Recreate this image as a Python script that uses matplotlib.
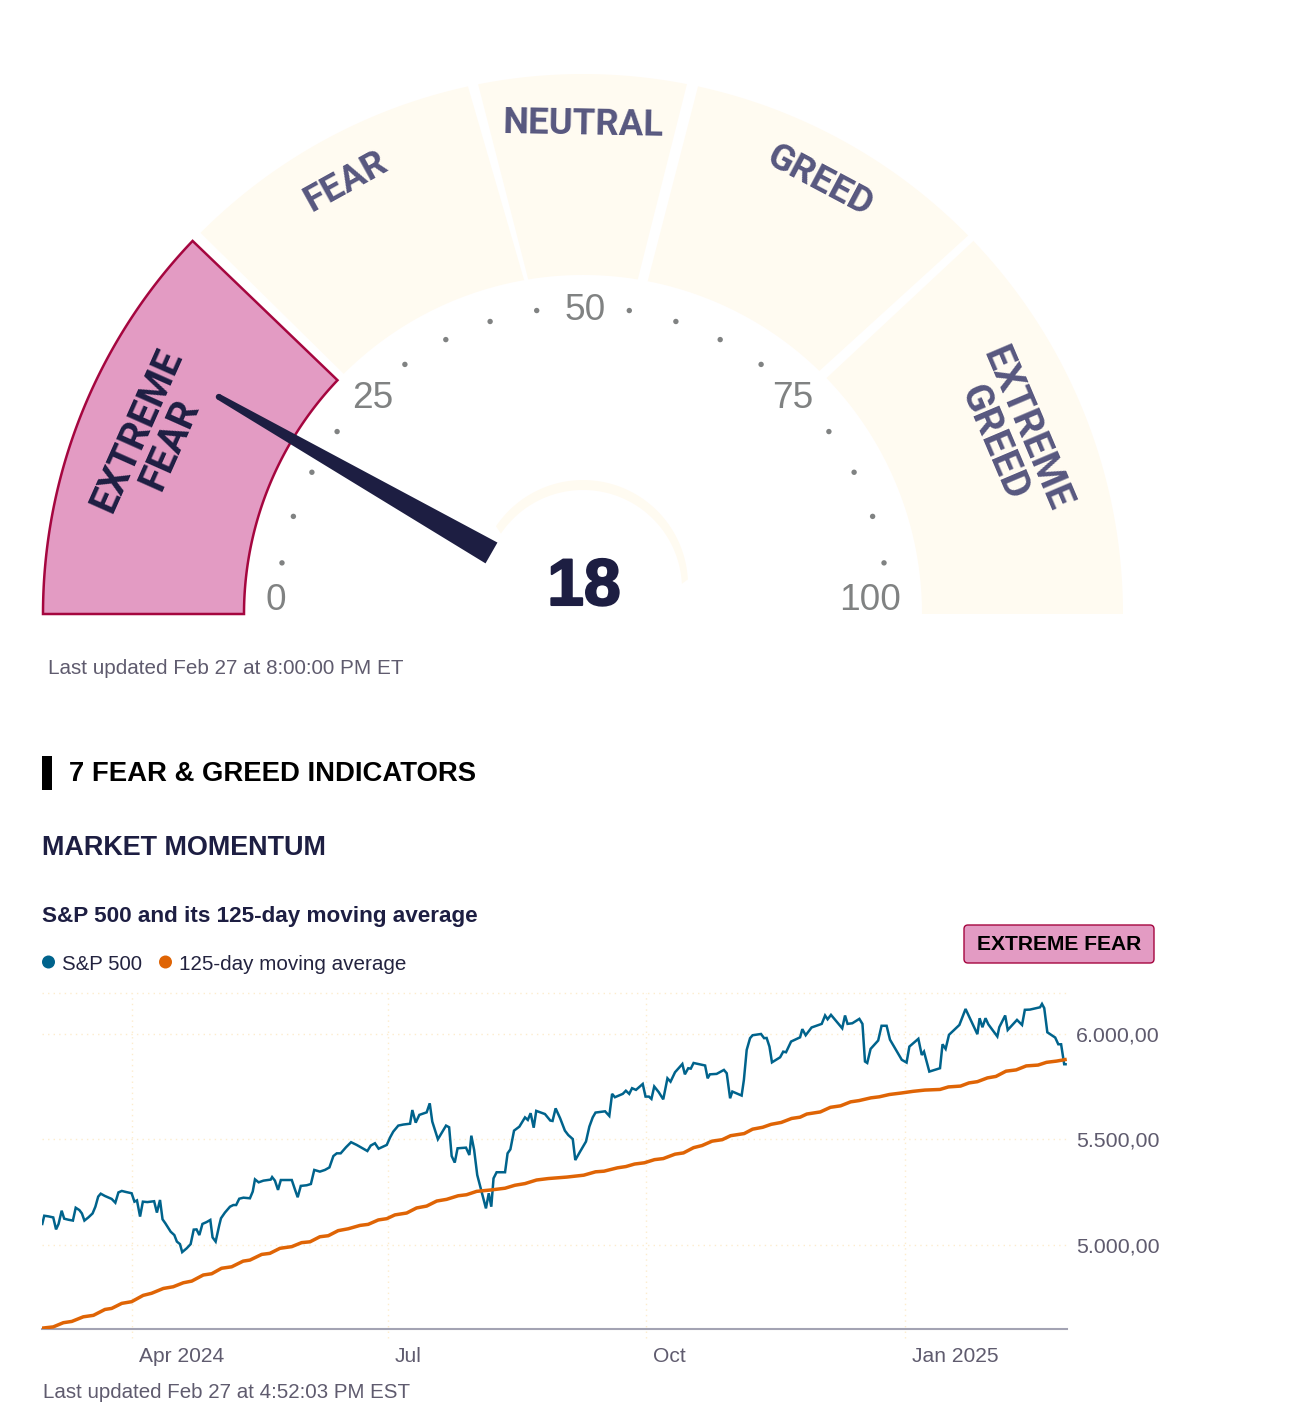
import numpy as np
import pandas as pd
import matplotlib
matplotlib.use("Agg")
import matplotlib.pyplot as plt
import matplotlib.dates as mdates
import matplotlib.patheffects as pe
from matplotlib.patches import Circle, FancyBboxPatch, Rectangle

plt.rcParams["font.family"] = ["Liberation Sans", "DejaVu Sans"]

# 1. Data
gauge_score = 18
gauge_tick_values = [5, 10, 15, 20, 30, 35, 40, 45, 55, 60, 65, 70, 80, 85, 90, 95]
gauge_label_values = ["0", "25", "50", "75", "100"]

chart_start = pd.Timestamp("2024-02-29")
sp500_days = [
    0.1, 0.8, 2.3, 4.0, 5.0, 5.9, 7.0, 7.9, 9.4, 11.0, 12.0, 13.3, 14.2, 15.1, 16.5, 18.0,
    19.0, 20.0, 20.9, 22.4, 24.8, 26.1, 27.2, 28.4, 29.9, 31.9, 32.9, 33.8, 34.9, 35.9, 37.5, 39.9,
    40.9, 42.0, 42.9, 43.9, 45.8, 47.1, 48.0, 49.1, 49.9, 51.5, 52.9, 54.0, 55.0, 56.0, 57.1, 58.6,
    59.9, 60.7, 61.8, 63.1, 63.7, 65.1, 66.9, 68.1, 69.1, 70.2, 71.7, 74.0, 75.0, 75.8, 77.1, 78.8,
    81.4, 81.9, 82.9, 84.0, 85.0, 88.9, 90.0, 91.0, 92.1, 94.2, 95.7, 96.9, 98.9, 100.7, 102.3, 103.7,
    104.9, 106.3, 108.2, 110.0, 112.0, 115.8, 117.0, 118.5, 119.8, 122.7, 123.9, 125.0, 126.8, 128.6, 131.0, 131.8,
    133.0, 134.3, 136.9, 138.0, 138.9, 140.9, 143.8, 144.9, 145.8, 146.9, 147.9, 150.9, 152.1, 152.8, 153.8, 154.9,
    156.2, 158.0, 159.0, 159.9, 160.7, 161.8, 164.8, 165.7, 166.7, 168.0, 169.9, 171.9, 172.9, 173.9, 175.0, 175.9,
    179.0, 180.9, 181.7, 182.8, 184.4, 186.1, 187.3, 188.9, 189.8, 191.5, 193.6, 194.8, 196.0, 197.0, 200.4, 201.9,
    202.9, 203.9, 206.7, 207.8, 209.0, 210.0, 211.4, 213.8, 214.8, 216.0, 216.9, 217.9, 219.5, 221.1, 222.6, 223.7,
    225.3, 227.9, 228.8, 230.0, 230.9, 231.9, 236.0, 236.9, 237.7, 240.1, 242.7, 243.7, 244.9, 245.7, 249.0, 249.8,
    250.8, 252.0, 252.9, 255.9, 257.0, 257.9, 258.9, 259.8, 262.7, 263.8, 264.8, 266.6, 269.8, 270.6, 271.8, 273.9,
    277.5, 278.7, 279.6, 280.8, 284.8, 285.8, 286.7, 288.4, 290.9, 292.0, 292.9, 293.7, 294.9, 297.6, 298.8, 300.6,
    301.8, 305.0, 306.0, 307.7, 308.7, 311.9, 313.1, 313.9, 315.8, 319.6, 320.5, 321.6, 322.8, 326.5, 328.7, 332.9,
    333.7, 334.7, 335.8, 336.8, 340.0, 340.7, 342.8, 343.7, 347.0, 348.8, 349.8, 351.6, 355.2, 355.9, 356.7, 357.8,
    360.6, 361.7, 362.7, 363.8, 364.3,
]
sp500_values = [
    5098, 5137, 5134, 5129, 5072, 5098, 5161, 5123, 5118, 5114, 5175, 5164, 5148, 5114, 5129, 5148,
    5180, 5228, 5242, 5231, 5217, 5199, 5248, 5255, 5250, 5244, 5204, 5210, 5133, 5204, 5202, 5206,
    5152, 5212, 5120, 5101, 5061, 5045, 5014, 5002, 4964, 4982, 5002, 5071, 5072, 5045, 5098, 5107,
    5117, 5034, 5014, 5093, 5125, 5152, 5180, 5188, 5188, 5218, 5223, 5220, 5252, 5310, 5296, 5304,
    5309, 5321, 5304, 5260, 5307, 5307, 5263, 5225, 5279, 5282, 5288, 5355, 5347, 5355, 5367, 5421,
    5434, 5434, 5463, 5487, 5474, 5445, 5471, 5482, 5456, 5474, 5510, 5537, 5566, 5571, 5575, 5640,
    5580, 5617, 5629, 5672, 5585, 5501, 5566, 5558, 5421, 5390, 5458, 5461, 5426, 5518, 5450, 5331,
    5264, 5172, 5244, 5180, 5315, 5344, 5344, 5434, 5453, 5542, 5561, 5605, 5593, 5625, 5556, 5636,
    5621, 5590, 5588, 5648, 5601, 5542, 5521, 5502, 5402, 5442, 5490, 5561, 5605, 5628, 5634, 5612,
    5717, 5701, 5717, 5732, 5717, 5744, 5736, 5764, 5704, 5704, 5693, 5752, 5725, 5691, 5791, 5775,
    5820, 5859, 5810, 5839, 5837, 5864, 5852, 5791, 5810, 5812, 5831, 5815, 5696, 5728, 5709, 5783,
    5926, 5982, 5996, 6002, 5982, 5983, 5942, 5867, 5891, 5918, 5915, 5966, 5986, 6025, 5996, 6033,
    6050, 6090, 6072, 6093, 6029, 6090, 6050, 6053, 6074, 6050, 5871, 5864, 5931, 5971, 6041, 6041,
    5975, 5902, 5879, 5866, 5942, 5979, 5902, 5918, 5823, 5839, 5953, 5931, 5998, 6045, 6121, 6001,
    6077, 6034, 6077, 6048, 5990, 6034, 6090, 6021, 6069, 6045, 6117, 6118, 6129, 6145, 6125, 6010,
    5985, 5953, 5953, 5858, 5858,
]
ma_days = [
    0, 4.0, 7.6, 10.6, 14.7, 18.3, 22.4, 24.8, 28.4, 31.9, 36.0, 39.0, 43.2, 46.7, 50.3, 53.3,
    57.4, 60.4, 63.9, 67.5, 71.6, 74.0, 78.2, 81.1, 84.7, 88.9, 92.4, 95.4, 98.9, 101.9, 105.4, 109.0,
    113.2, 116.1, 119.7, 122.7, 125.6, 129.8, 133.3, 136.9, 140.5, 144.0, 148.1, 151.1, 154.7, 160.0, 164.8, 168.3,
    171.9, 176.0, 180.2, 186.8, 192.8, 197.0, 200.0, 204.8, 207.8, 210.9, 214.4, 218.0, 221.1, 225.3, 228.3, 231.9,
    234.9, 238.5, 242.1, 245.1, 249.9, 252.9, 256.5, 259.5, 263.1, 266.8, 269.8, 272.2, 277.0, 280.6, 284.2, 287.8,
    290.8, 295.0, 298.0, 301.6, 305.8, 310.0, 314.2, 319.6, 322.6, 326.9, 329.9, 332.9, 336.5, 339.5, 343.1, 346.7,
    350.3, 354.5, 357.5, 361.1, 364.1,
]
ma_values = [
    4602, 4608, 4628, 4634, 4656, 4663, 4691, 4696, 4720, 4728, 4758, 4768, 4791, 4799, 4818, 4826,
    4855, 4861, 4887, 4894, 4921, 4926, 4953, 4958, 4982, 4990, 5009, 5013, 5037, 5042, 5066, 5075,
    5091, 5096, 5117, 5123, 5141, 5150, 5174, 5183, 5207, 5215, 5232, 5237, 5253, 5260, 5268, 5282,
    5290, 5307, 5314, 5321, 5330, 5346, 5349, 5365, 5371, 5383, 5389, 5404, 5409, 5430, 5436, 5461,
    5471, 5492, 5499, 5518, 5528, 5549, 5558, 5572, 5581, 5600, 5606, 5621, 5631, 5653, 5660, 5679,
    5685, 5698, 5703, 5714, 5721, 5729, 5735, 5738, 5750, 5754, 5769, 5775, 5793, 5800, 5825, 5831,
    5850, 5854, 5867, 5873, 5880,
]
y_ticks = [5000, 5500, 6000]
month_ticks = ["2024-04-01", "2024-07-01", "2024-10-01", "2025-01-01"]
month_labels = ["Apr 2024", "Jul", "Oct", "Jan 2025"]

# 2. Colours and page size
W, H = 1292, 1402
NAVY = "#1d1e42"
MUTED = "#5f5b6e"
CREAM = "#fffbf1"
PINK = "#e39bc3"
CRIMSON = "#a5063f"
BLUE = "#00638c"
ORANGE = "#df6405"
GRID = "#fdeccd"
SLATE = "#57577f"
GREY = "#808282"


def px(size):
    # font size given in pixels of the 100 dpi page
    return size * 0.72


fig = plt.figure(figsize=(W / 100, H / 100), dpi=100, facecolor="white")
page = fig.add_axes([0, 0, 1, 1])
page.set_xlim(0, W)
page.set_ylim(H, 0)
page.axis("off")

# 3. Gauge
CX, CY = 583, 614
R_OUT, R_IN = 540, 339


def polar(r, deg, cy=CY, cx=CX):
    a = np.radians(deg)
    return cx + r * np.cos(a), cy - r * np.sin(a)


def sector(out_a, out_b, in_a, in_b, **kw):
    ox, oy = polar(R_OUT, np.linspace(out_a, out_b, 120))
    ix, iy = polar(R_IN, np.linspace(in_b, in_a, 120))
    page.fill(np.r_[ox, ix], np.r_[oy, iy], **kw)


# outer start, outer end, inner start, inner end, in degrees
sector(135.1, 102.3, 134.9, 100.0, fc=CREAM, ec="none")
sector(101.2, 78.9, 99.3, 80.7, fc=CREAM, ec="none")
sector(77.7, 44.5, 79.0, 45.8, fc=CREAM, ec="none")
sector(43.7, 0, 44.1, 0, fc=CREAM, ec="none")
sector(180, 136.3, 180, 136.4, fc=PINK, ec=CRIMSON, lw=1.8, joinstyle="miter")

# small crescent behind the score
arc_a = np.linspace(3, 146, 80)
ax1, ay1 = polar(105, arc_a, cy=585)
ax2, ay2 = polar(99, arc_a[::-1], cy=589)
page.fill(np.r_[ax1, ax2], np.r_[ay1, ay2], fc=CREAM, ec="none")


def score_angle(v):
    return 180 - 1.8 * v


# tick dots
for v in gauge_tick_values:
    shift = 0.15 if v < 50 else -0.15
    dx, dy = polar(305, score_angle(v + shift), cy=612)
    page.add_patch(Circle((dx, dy), 2.7, fc=GREY, ec="none"))

label_xy = [(276, 600), (373, 399), (585, 311), (793, 399), (870, 600)]
for lab, (lx, ly) in zip(gauge_label_values, label_xy):
    page.text(lx, ly, lab, fontsize=px(37), color=GREY, ha="center", va="center")

# needle
a = score_angle(gauge_score)
tip = np.array(polar(424, a + 1.6))
base = np.array(polar(110, a - 1.3))
nrm = np.array([-(tip - base)[1], (tip - base)[0]])
nrm = nrm / np.linalg.norm(nrm)
needle = np.array([base + nrm * 12, tip + nrm * 3, tip - nrm * 3, base - nrm * 12])
page.fill(needle[:, 0], needle[:, 1], fc=NAVY, ec="none", zorder=5)
page.add_patch(Circle(tip, 3, fc=NAVY, ec="none", zorder=5))

page.text(584, 588, str(gauge_score), fontsize=px(66), fontweight="bold", color=NAVY,
          ha="center", va="center", zorder=6,
          path_effects=[pe.withStroke(linewidth=1.5, foreground=NAVY)])

# sector names
name_font = ["Roboto", "Liberation Sans"]
name_size = px(37)
page.text(154, 437, "EXTREME\nFEAR", family=name_font, fontsize=px(39), fontweight="bold", color=NAVY,
          rotation=66, ha="center", va="center", rotation_mode="anchor", linespacing=0.95, multialignment="center")
page.text(346, 182, "FEAR", family=name_font, fontsize=name_size, fontweight="bold", color=SLATE,
          rotation=29, ha="center", va="center", rotation_mode="anchor")
page.text(583, 124, "NEUTRAL", family=name_font, fontsize=px(36.5), fontweight="bold", color=SLATE,
          rotation=-1, ha="center", va="center", rotation_mode="anchor")
page.text(820, 181, "GREED", family=name_font, fontsize=name_size, fontweight="bold", color=SLATE,
          rotation=-28, ha="center", va="center", rotation_mode="anchor")
page.text(1010, 436, "EXTREME\nGREED", family=name_font, fontsize=px(39), fontweight="bold", color=SLATE,
          rotation=-67, ha="center", va="center", rotation_mode="anchor", linespacing=0.95, multialignment="center")

page.text(48, 669, "Last updated Feb 27 at 8:00:00 PM ET", fontsize=px(20.6), color=MUTED, va="center")

# 4. Headings and legend
page.add_patch(Rectangle((42, 756), 10, 34, fc="black", ec="none"))
page.text(69, 774, "7 FEAR & GREED INDICATORS", fontsize=px(27.5), fontweight="bold", color="black", va="center")
page.text(42, 848, "MARKET MOMENTUM", fontsize=px(27), fontweight="bold", color=NAVY, va="center")
page.text(42, 916.5, "S&P 500 and its 125-day moving average", fontsize=px(22.5), fontweight="bold", color=NAVY, va="center")

page.add_patch(Circle((48.5, 962), 6.5, fc=BLUE, ec="none"))
page.text(62, 964, "S&P 500", fontsize=px(20.4), color="#23233f", va="center")
page.add_patch(Circle((165.5, 962), 6.5, fc=ORANGE, ec="none"))
page.text(179, 964, "125-day moving average", fontsize=px(20.6), color="#23233f", va="center")

page.add_patch(FancyBboxPatch((968, 929), 182, 30, boxstyle="round,pad=4,rounding_size=4",
                              fc=PINK, ec=CRIMSON, lw=1))
page.text(1059, 945, "EXTREME FEAR", fontsize=px(21), fontweight="bold", color="black", ha="center", va="center")

# 5. Line chart
ax = fig.add_axes([42 / W, 1 - 1329 / H, (1067 - 42) / W, (1329 - 993) / H])
ax.patch.set_alpha(0)

sp500_dates = chart_start + pd.to_timedelta(sp500_days, unit="D")
ma_dates = chart_start + pd.to_timedelta(ma_days, unit="D")
month_nums = mdates.date2num(pd.to_datetime(month_ticks))

ax.plot(sp500_dates, sp500_values, color=BLUE, lw=1.8, solid_joinstyle="miter", zorder=3)
ax.plot(ma_dates, ma_values, color=ORANGE, lw=2.5, zorder=4)

ax.set_xlim(chart_start, chart_start + pd.Timedelta(days=364.8))
ax.set_ylim(4598, 6197)

for d in month_nums:
    ax.plot([d, d], [-0.027, 1], transform=ax.get_xaxis_transform(), color=GRID, lw=1,
            ls=(0, (1, 3)), clip_on=False, zorder=1)
for v in y_ticks:
    ax.axhline(v, color=GRID, lw=1, ls=(0, (1, 3)), zorder=1)
ax.plot([0, 1], [1, 1], transform=ax.transAxes, color=GRID, lw=1, ls=(0, (1, 3)), clip_on=False, zorder=1)

for s in ["top", "left", "right"]:
    ax.spines[s].set_visible(False)
ax.spines["bottom"].set_color("#a3a3b3")
ax.spines["bottom"].set_linewidth(1.5)

ax.yaxis.tick_right()
ax.set_yticks(y_ticks)
ax.set_yticklabels([f"{v:,.2f}".replace(",", "#").replace(".", ",").replace("#", ".") for v in y_ticks],
                   fontsize=px(21.4), color=MUTED)
ax.tick_params(axis="y", length=0, pad=6.5)
ax.set_xticks([])

for d, lab in zip(month_nums, month_labels):
    ax.annotate(lab, xy=(d, 0), xycoords=ax.get_xaxis_transform(), xytext=(5, -20),
                textcoords="offset points", fontsize=px(21), color=MUTED, ha="left", va="center",
                annotation_clip=False)

page.text(43, 1393, "Last updated Feb 27 at 4:52:03 PM EST", fontsize=px(20.5), color=MUTED, va="center")

fig.savefig("out.png", dpi=100, facecolor="white")
